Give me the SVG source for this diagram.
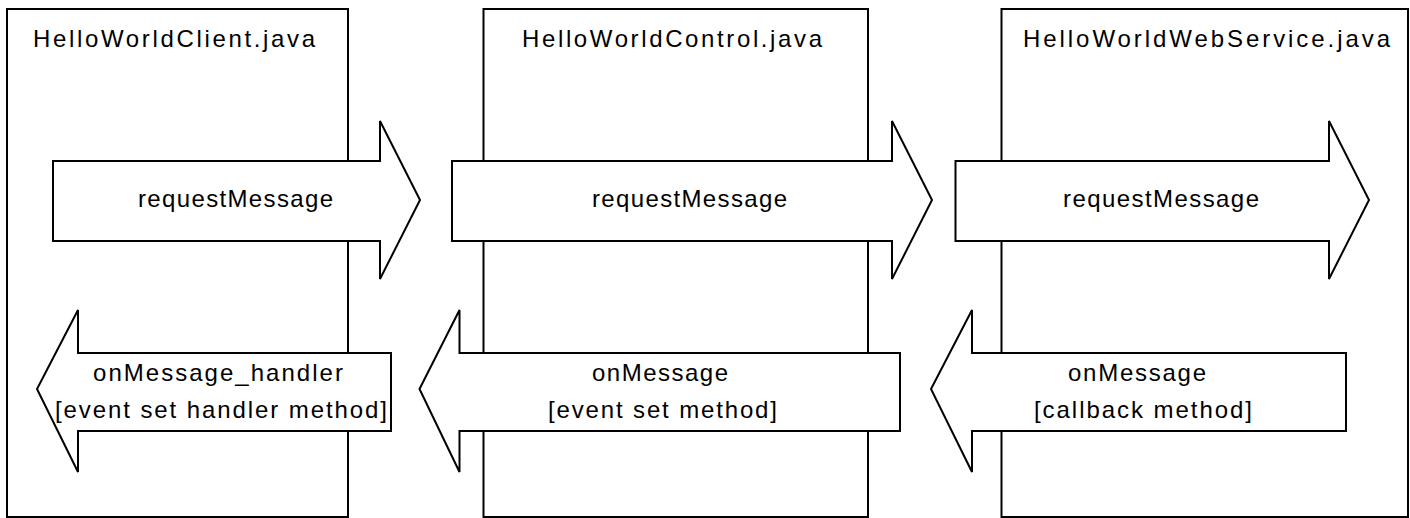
<svg xmlns="http://www.w3.org/2000/svg" width="1410" height="518" viewBox="0 0 1410 518">
<style>
.box{fill:#fff;stroke:#000;stroke-width:2}
.arrow{fill:#fff;stroke:#000;stroke-width:2;stroke-linejoin:miter}
text{font-family:"Liberation Sans",Arial,sans-serif;font-size:24px;fill:#000}
</style>
<rect x="0" y="0" width="1410" height="518" fill="#fff"/>
<g id="client">
<rect class="box" x="7" y="9" width="341" height="508"/>
<text x="33" y="47" textLength="282" lengthAdjust="spacing">HelloWorldClient.java</text>
</g>
<g id="control">
<rect class="box" x="483.5" y="9" width="384.5" height="508"/>
<text x="522" y="47" textLength="300" lengthAdjust="spacing">HelloWorldControl.java</text>
</g>
<g id="webservice">
<rect class="box" x="1001.5" y="9" width="406.5" height="508"/>
<text x="1023" y="47" textLength="367" lengthAdjust="spacing">HelloWorldWebService.java</text>
</g>
<g id="connectors">
<g id="req1">
<polygon class="arrow" points="53,161 380,161 380,121 420,200 380,279 380,241 53,241"/>
<text x="138" y="207" textLength="195" lengthAdjust="spacing">requestMessage</text>
</g>
<g id="req2">
<polygon class="arrow" points="452,161 892,161 892,121 932,200 892,279 892,241 452,241"/>
<text x="592" y="207" textLength="195" lengthAdjust="spacing">requestMessage</text>
</g>
<g id="req3">
<polygon class="arrow" points="955.5,161 1329,161 1329,121 1369,200 1329,279 1329,241 955.5,241"/>
<text x="1063" y="207" textLength="196" lengthAdjust="spacing">requestMessage</text>
</g>
<g id="resp1">
<polygon class="arrow" points="391,353 78,353 78,310 37,389 78,472 78,431 391,431"/>
<text x="93" y="381" textLength="250" lengthAdjust="spacing">onMessage_handler</text>
<text x="55" y="418" textLength="332" lengthAdjust="spacing">[event set handler method]</text>
</g>
<g id="resp2">
<polygon class="arrow" points="900,353 459.5,353 459.5,310 419.5,389 459.5,472 459.5,431 900,431"/>
<text x="592" y="381" textLength="136" lengthAdjust="spacing">onMessage</text>
<text x="548" y="418" textLength="229" lengthAdjust="spacing">[event set method]</text>
</g>
<g id="resp3">
<polygon class="arrow" points="1346,353 972,353 972,310 931,389 972,472 972,431 1346,431"/>
<text x="1068" y="381" textLength="138" lengthAdjust="spacing">onMessage</text>
<text x="1034" y="418" textLength="218" lengthAdjust="spacing">[callback method]</text>
</g>
</g>
</svg>
